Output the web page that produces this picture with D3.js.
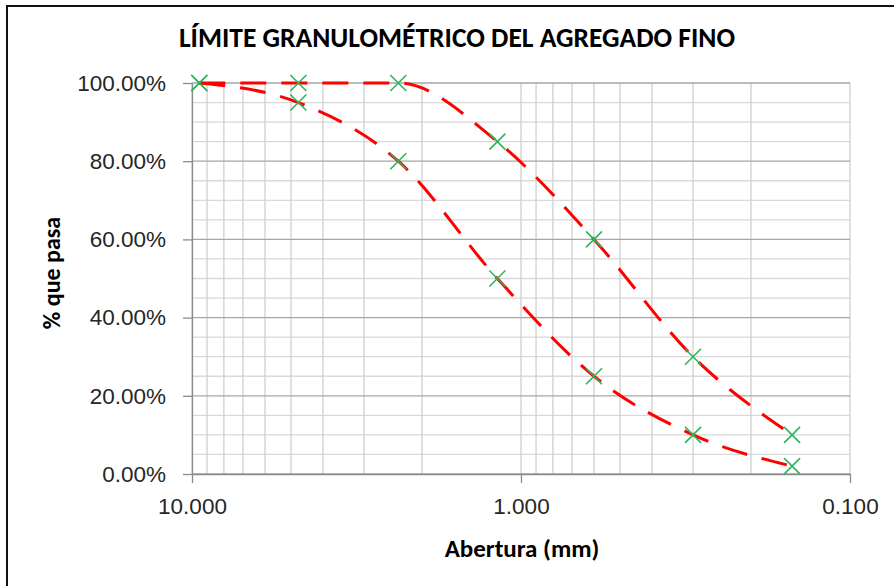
<!DOCTYPE html>
<html>
<head>
<meta charset="utf-8">
<script src="https://cdn.jsdelivr.net/npm/d3@7"></script>
<style>
  body { margin: 0; background: #fff; }
  text { font-family: "Liberation Sans", Arial, sans-serif; fill: #262626; }
  .bold { font-family: Carlito, Calibri, "Liberation Sans Narrow", Lato, sans-serif; font-weight: bold; fill: #000; }
</style>
</head>
<body>
<svg width="894" height="586"></svg>
<script>
var width = 894;
var height = 586;
var margin = {left: 192, right: 44, top: 83, bottom: 112};

// sieve openings (mm) and limits (% passing)
var aberturas = [9.5, 4.75, 2.36, 1.18, 0.6, 0.3, 0.15];
var limiteSuperior = [100, 100, 100, 85, 60, 30, 10];
var limiteInferior = [100, 95, 80, 50, 25, 10, 2];

var xTicks = [10, 1, 0.1];
var yTicks = [0, 20, 40, 60, 80, 100];
var yMinor = [5, 10, 15, 25, 30, 35, 45, 50, 55, 65, 70, 75, 85, 90, 95];

var titulo = "LÍMITE GRANULOMÉTRICO DEL AGREGADO FINO";
var xTitulo = "Abertura (mm)";
var yTitulo = "% que pasa";

var svg = d3.select('svg');

var xScale = d3.scaleLog().domain([10, 0.1]).range([margin.left, width - margin.right]);
var yScale = d3.scaleLinear().domain([0, 100]).range([height - margin.bottom, margin.top]);

// outer frame
svg.append('rect')
  .attr('x', 7).attr('y', 6)
  .attr('width', 920).attr('height', 620)
  .attr('fill', 'none')
  .attr('stroke', '#111')
  .attr('stroke-width', 2);

// minor horizontal grid
svg.append('g').selectAll('line')
  .data(yMinor)
  .enter().append('line')
  .attr('x1', margin.left).attr('x2', width - margin.right)
  .attr('y1', function(d) { return yScale(d); })
  .attr('y2', function(d) { return yScale(d); })
  .attr('stroke', '#d9d9d9').attr('stroke-width', 1.3);

// vertical log grid
svg.append('g').selectAll('line')
  .data(xScale.ticks())
  .enter().append('line')
  .attr('x1', function(d) { return xScale(d); })
  .attr('x2', function(d) { return xScale(d); })
  .attr('y1', margin.top).attr('y2', height - margin.bottom)
  .attr('stroke', '#d0d0d0').attr('stroke-width', 1.3);

// major horizontal grid
svg.append('g').selectAll('line')
  .data(yTicks)
  .enter().append('line')
  .attr('x1', margin.left).attr('x2', width - margin.right)
  .attr('y1', function(d) { return yScale(d); })
  .attr('y2', function(d) { return yScale(d); })
  .attr('stroke', '#a6a6a6').attr('stroke-width', 1.3);

var axisBottom = d3.axisBottom(xScale)
  .tickValues(xTicks)
  .tickFormat(d3.format('.3f'))
  .tickSize(9)
  .tickSizeOuter(0)
  .tickPadding(15);

var axisLeft = d3.axisLeft(yScale)
  .tickValues(yTicks)
  .tickFormat(function(d) { return d3.format('.2%')(d / 100); })
  .tickSize(9)
  .tickSizeOuter(0)
  .tickPadding(17);

var gx = svg.append('g')
  .attr('transform', 'translate(0,' + (height - margin.bottom) + ')')
  .call(axisBottom);

var gy = svg.append('g')
  .attr('transform', 'translate(' + margin.left + ',0)')
  .call(axisLeft);

[gx, gy].forEach(function(g) {
  g.select('.domain').attr('stroke', '#8c8c8c').attr('stroke-width', 1.3);
  g.selectAll('.tick line').attr('stroke', '#8c8c8c').attr('stroke-width', 1.3);
  g.selectAll('.tick text')
    .attr('fill', '#262626')
    .style('font-family', '"Liberation Sans", Arial, sans-serif')
    .style('font-size', '22.5px');
});

// smoothed dashed limit curves
var line = d3.line()
  .x(function(d) { return xScale(d[0]); })
  .y(function(d) { return yScale(d[1]); })
  .curve(d3.curveMonotoneX);

[limiteSuperior, limiteInferior].forEach(function(serie) {
  var pts = aberturas.map(function(a, i) { return [a, serie[i]]; });
  svg.append('path')
    .datum(pts)
    .attr('d', line)
    .attr('fill', 'none')
    .attr('stroke', '#ff0000')
    .attr('stroke-width', 3)
    .attr('stroke-dasharray', '26,15');

  var m = svg.append('g').selectAll('g')
    .data(pts)
    .enter().append('g')
    .attr('transform', function(d) { return 'translate(' + xScale(d[0]) + ',' + yScale(d[1]) + ')'; });
  m.append('path')
    .attr('d', 'M-8,-8L8,8M-8,8L8,-8')
    .attr('stroke', '#2cb55c')
    .attr('stroke-width', 1.6)
    .attr('fill', 'none');
});

// titles
svg.append('text')
  .attr('class', 'bold')
  .attr('x', 457).attr('y', 47)
  .style('text-anchor', 'middle')
  .style('font-size', '27.5px')
  .text(titulo);

svg.append('text')
  .attr('class', 'bold')
  .attr('x', 522).attr('y', 557)
  .style('text-anchor', 'middle')
  .style('font-size', '25px')
  .text(xTitulo);

svg.append('text')
  .attr('class', 'bold')
  .attr('transform', 'rotate(-90)')
  .attr('x', -273).attr('y', 60)
  .style('text-anchor', 'middle')
  .style('font-size', '24px')
  .text(yTitulo);
</script>
</body>
</html>
